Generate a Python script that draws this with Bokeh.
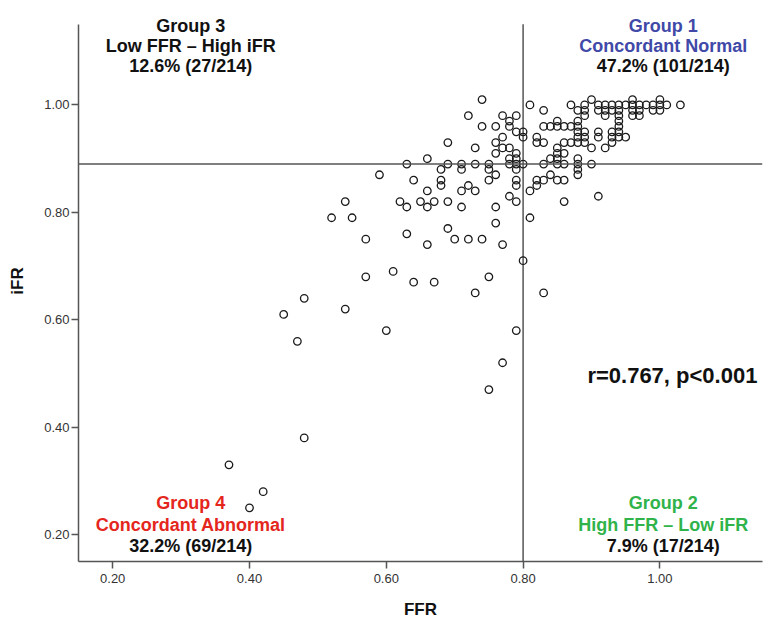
from bokeh.plotting import figure
from bokeh.models import ColumnDataSource, Range1d, Span, Label, FixedTicker, PrintfTickFormatter
from bokeh.embed import file_html
from bokeh.resources import INLINE

# ---- data ----
ffr = [0.37, 0.40, 0.42, 0.45, 0.47, 0.48, 0.48, 0.52, 0.54, 0.55, 0.54, 0.57, 0.57, 0.59, 0.60,
       0.61, 0.62, 0.63, 0.63, 0.63, 0.64, 0.64, 0.65, 0.66, 0.66, 0.66, 0.66, 0.67, 0.67, 0.68,
       0.68, 0.68, 0.69, 0.69, 0.69, 0.69, 0.70, 0.71, 0.71, 0.71, 0.71, 0.72, 0.72, 0.72, 0.73,
       0.73, 0.73, 0.73, 0.74, 0.74, 0.74, 0.75, 0.75, 0.75, 0.75, 0.75, 0.76, 0.76, 0.76, 0.76,
       0.76, 0.76, 0.77, 0.77, 0.77, 0.77, 0.77, 0.78, 0.78, 0.78, 0.78, 0.78, 0.78, 0.79, 0.79,
       0.79, 0.79, 0.79, 0.79, 0.79, 0.79, 0.79, 0.79, 0.80, 0.80, 0.80, 0.80,
       0.81, 0.81, 0.81, 0.82, 0.82, 0.82, 0.82, 0.83, 0.83, 0.83, 0.83, 0.83, 0.83, 0.84, 0.84,
       0.84, 0.85, 0.85, 0.85, 0.85, 0.85, 0.85, 0.85, 0.86, 0.86, 0.86, 0.86, 0.86, 0.86, 0.87,
       0.87, 0.87, 0.88, 0.88, 0.88, 0.88, 0.88, 0.88, 0.88, 0.88, 0.88, 0.88, 0.89, 0.89, 0.89,
       0.89, 0.89, 0.89, 0.90, 0.90, 0.90, 0.91, 0.91, 0.91, 0.91, 0.91, 0.92, 0.92, 0.92, 0.92,
       0.93, 0.93, 0.93, 0.93, 0.93, 0.94, 0.94, 0.94, 0.94, 0.94, 0.94, 0.94, 0.95, 0.95, 0.96,
       0.96, 0.96, 0.96, 0.97, 0.97, 0.97, 0.98, 0.99, 0.99, 1.00, 1.00, 1.00, 1.01, 1.03]
ifr = [0.33, 0.25, 0.28, 0.61, 0.56, 0.64, 0.38, 0.79, 0.82, 0.79, 0.62, 0.75, 0.68, 0.87, 0.58,
       0.69, 0.82, 0.81, 0.76, 0.89, 0.86, 0.67, 0.82, 0.90, 0.84, 0.81, 0.74, 0.82, 0.67, 0.88,
       0.86, 0.85, 0.93, 0.89, 0.82, 0.77, 0.75, 0.89, 0.88, 0.84, 0.81, 0.98, 0.85, 0.75, 0.92,
       0.89, 0.84, 0.65, 1.01, 0.96, 0.75, 0.89, 0.88, 0.86, 0.68, 0.47, 0.96, 0.93, 0.91, 0.87,
       0.81, 0.78, 0.98, 0.94, 0.92, 0.74, 0.52, 0.97, 0.96, 0.92, 0.90, 0.89, 0.83, 0.98, 0.95,
       0.91, 0.90, 0.89, 0.88, 0.86, 0.85, 0.82, 0.58, 0.95, 0.94, 0.89, 0.71,
       1.00, 0.84, 0.79, 0.94, 0.93, 0.86, 0.85, 0.99, 0.96, 0.93, 0.89, 0.86, 0.65, 0.96, 0.90,
       0.87, 0.97, 0.96, 0.92, 0.91, 0.90, 0.89, 0.86, 0.96, 0.93, 0.91, 0.89, 0.86, 0.82, 1.00,
       0.96, 0.93, 0.99, 0.97, 0.96, 0.95, 0.94, 0.93, 0.90, 0.89, 0.88, 0.87, 1.00, 0.99, 0.98,
       0.95, 0.94, 0.93, 1.01, 0.92, 0.89, 1.00, 0.99, 0.95, 0.94, 0.83, 1.00, 0.99, 0.98, 0.92,
       1.00, 0.99, 0.95, 0.94, 0.93, 1.00, 0.99, 0.98, 0.97, 0.96, 0.95, 0.94, 1.00, 0.94, 1.01,
       1.00, 0.99, 0.98, 1.00, 0.99, 0.98, 1.00, 1.00, 0.99, 1.01, 1.00, 0.99, 1.00, 1.00]

x_ticks = [0.20, 0.40, 0.60, 0.80, 1.00]
y_ticks = [0.20, 0.40, 0.60, 0.80, 1.00]
axis_min = 0.15
axis_max = 1.15
ffr_cutoff = 0.80
ifr_cutoff = 0.89

group_titles = ["Group 1", "Group 2", "Group 3", "Group 4"]
group_names = ["Concordant Normal", "High FFR \u2013 Low iFR", "Low FFR \u2013 High iFR", "Concordant Abnormal"]
group_stats = ["47.2% (101/214)", "7.9% (17/214)", "12.6% (27/214)", "32.2% (69/214)"]
group_colors = ["#4049A8", "#2FB34A", "#111111", "#E4261C"]
stat_text = "r=0.767, p<0.001"

FONT = "Liberation Sans"

src = ColumnDataSource(data=dict(ffr=ffr, ifr=ifr))

# frame reaches the top of the canvas so the upper group texts are not clipped;
# the y-axis line itself is bounded to 0.15..1.15
p = figure(width=766, height=621, output_backend="svg", toolbar_location=None,
           x_range=Range1d(axis_min, axis_max), y_range=Range1d(axis_min, axis_max + 24 / 540),
           min_border_left=78, min_border_right=4, min_border_top=0, min_border_bottom=57,
           x_axis_label="FFR", y_axis_label="iFR")
p.outline_line_color = None
p.grid.visible = False
p.background_fill_color = "white"
p.border_fill_color = "white"

p.xaxis.ticker = FixedTicker(ticks=x_ticks)
p.yaxis.ticker = FixedTicker(ticks=y_ticks)
p.yaxis.bounds = (axis_min, axis_max)
p.axis.formatter = PrintfTickFormatter(format="%.2f")
p.axis.minor_tick_line_color = None
p.axis.major_tick_in = 0
p.axis.major_tick_out = 7
p.axis.axis_line_color = "#555555"
p.axis.axis_line_width = 1.5
p.axis.major_tick_line_color = "#555555"
p.axis.major_tick_line_width = 1.5
p.axis.major_label_text_font = FONT
p.axis.major_label_text_font_size = "13px"
p.axis.major_label_text_color = "#333333"
p.xaxis.major_label_standoff = 5
p.yaxis.major_label_standoff = 2
p.axis.axis_label_text_font = FONT
p.axis.axis_label_text_font_size = "17px"
p.axis.axis_label_text_font_style = "bold"
p.axis.axis_label_text_color = "#111111"
p.xaxis.axis_label_standoff = 14
p.yaxis.axis_label_standoff = 14

# reference lines
p.segment(x0=[ffr_cutoff], y0=[axis_min], x1=[ffr_cutoff], y1=[axis_max],
          line_color="#555555", line_width=1.5)
p.add_layout(Span(location=ifr_cutoff, dimension="width", line_color="#555555", line_width=1.5))

p.scatter("ffr", "ifr", source=src, marker="circle", size=7.5, fill_alpha=0,
          line_color="#1a1a1a", line_width=1.3)

# group annotations: (x center, y of three lines)
top_y = [1.147, 1.109, 1.072]
bot_y = [0.258, 0.218, 0.179]
left_x = 0.314
right_x = 1.005
positions = [(right_x, top_y), (right_x, bot_y), (left_x, top_y), (left_x, bot_y)]
for i, (gx, ys) in enumerate(positions):
    texts = [group_titles[i], group_names[i], group_stats[i]]
    cols = [group_colors[i], group_colors[i], "#111111"]
    for t, yy, c in zip(texts, ys, cols):
        p.add_layout(Label(x=gx, y=yy, text=t, text_align="center", text_baseline="middle",
                           text_font=FONT, text_font_size="18px", text_font_style="bold",
                           text_color=c))

p.add_layout(Label(x=0.894, y=0.497, text=stat_text, text_align="left", text_baseline="middle",
                   text_font=FONT, text_font_size="22px", text_font_style="bold", text_color="#111111"))

open("out.html", "w").write(file_html(p, INLINE))
